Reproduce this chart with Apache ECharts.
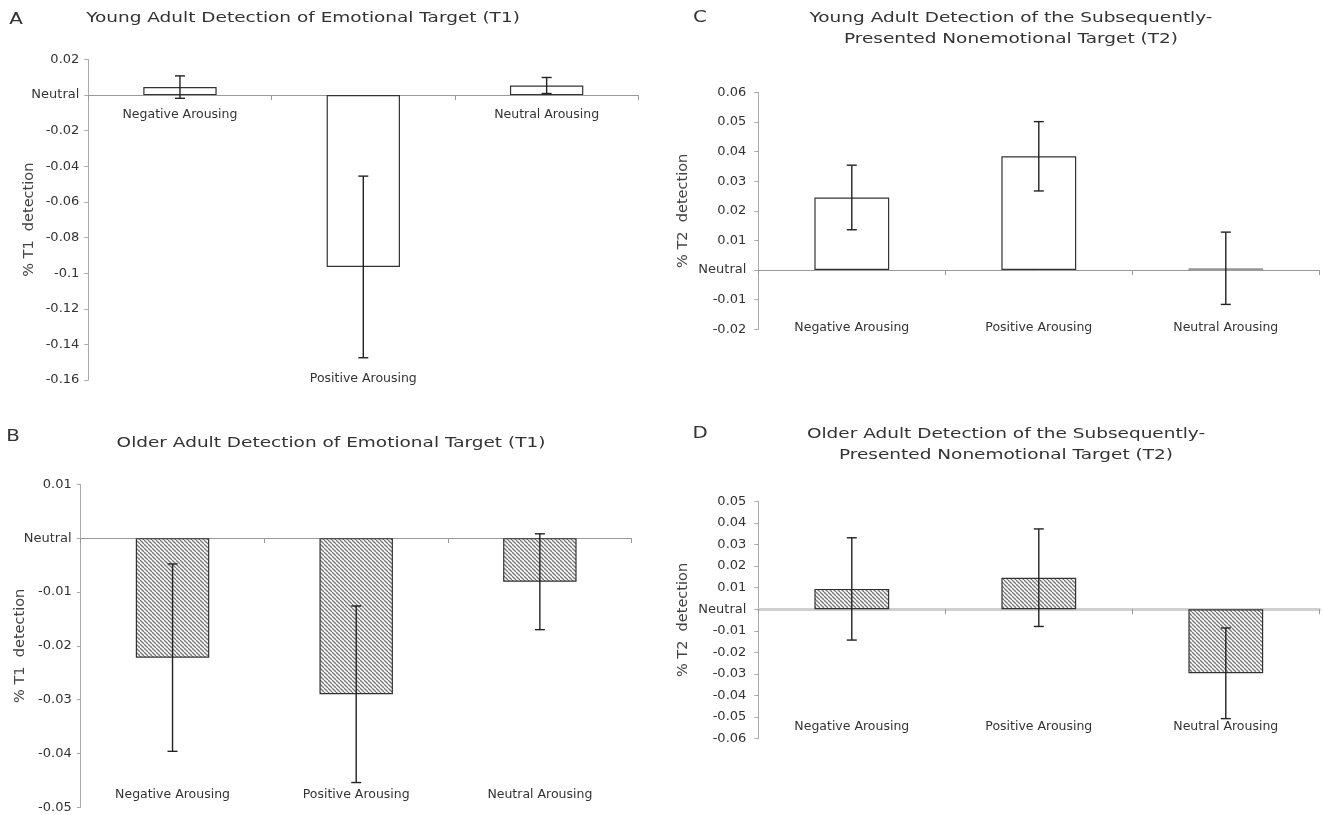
<!DOCTYPE html>
<html>
<head>
<meta charset="utf-8">
<title>Detection of emotional / nonemotional targets</title>
<script src="https://cdn.jsdelivr.net/npm/echarts@6/dist/echarts.min.js"></script>
<style>
  html, body { margin: 0; padding: 0; background: #fff; }
  #main { width: 1323px; height: 815px; }
</style>
</head>
<body>
<div id="main"></div>
<script>
// 数据：三个条件，四个面板（A 年轻T1，B 年长T1，C 年轻T2，D 年长T2）
var categories = ['Negative Arousing', 'Positive Arousing', 'Neutral Arousing'];

var youngT1 = [0.0045, -0.0965, 0.0054];
var youngT1Err = [0.0063, 0.051, 0.0045];

var olderT1 = [-0.0222, -0.029, -0.0081];
var olderT1Err = [0.0174, 0.0164, 0.0089];

var youngT2 = [0.0245, 0.0384, 0.0006];
var youngT2Err = [0.0109, 0.0117, 0.0122];

var olderT2 = [0.0094, 0.0146, -0.0297];
var olderT2Err = [0.0237, 0.0226, 0.021];

// y轴范围 [min, max, interval]
var yRangeA = [-0.16, 0.02, 0.02];
var yRangeB = [-0.05, 0.01, 0.01];
var yRangeC = [-0.02, 0.06, 0.01];
var yRangeD = [-0.06, 0.05, 0.01];

var font = 'DejaVu Sans, Verdana, sans-serif';

// 斜线填充（B、D 两个面板）
function hatchPattern() {
  var s = 4;
  var c = document.createElement('canvas');
  c.width = s; c.height = s;
  var ctx = c.getContext('2d');
  ctx.fillStyle = '#fff';
  ctx.fillRect(0, 0, s, s);
  ctx.strokeStyle = '#777';
  ctx.lineWidth = 1.3;
  for (var k = -1; k <= 1; k++) {
    ctx.beginPath();
    ctx.moveTo(k * s, 0);
    ctx.lineTo(k * s + s, s);
    ctx.stroke();
  }
  return c;
}
var hatch = { image: hatchPattern(), repeat: 'repeat' };

// 面板配置：网格位置、y轴、标签位置
var panels = [
  { grid: { left: 88.3, top: 59.5, width: 550, height: 320.5 }, range: yRangeA, name: '% T1  detection', nameGap: 52,
    labelPos: ['zero', 'bottom', 'zero'], zeroMargin: 13, bottomMargin: -8, labelMargin: 9,
    zeroLine: { color: '#999', width: 1 }, vals: youngT1, errs: youngT1Err, fill: '#fff' },
  { grid: { left: 80.7, top: 484.3, width: 551, height: 323 }, range: yRangeB, name: '% T1  detection', nameGap: 53,
    labelPos: ['bottom', 'bottom', 'bottom'], zeroMargin: 8, bottomMargin: -19, labelMargin: 9,
    zeroLine: { color: '#999', width: 1 }, vals: olderT1, errs: olderT1Err, fill: hatch },
  { grid: { left: 758.3, top: 92.3, width: 561, height: 237 }, range: yRangeC, name: '% T2  detection', nameGap: 68,
    labelPos: ['bottom', 'bottom', 'bottom'], zeroMargin: 8, bottomMargin: -8, labelMargin: 12,
    zeroLine: { color: '#999', width: 1 }, vals: youngT2, errs: youngT2Err, fill: '#fff' },
  { grid: { left: 758.3, top: 501.3, width: 561, height: 237.4 }, range: yRangeD, name: '% T2  detection', nameGap: 68,
    labelPos: ['bottom', 'bottom', 'bottom'], zeroMargin: 8, bottomMargin: -18, labelMargin: 12,
    zeroLine: { color: '#cfcfcf', width: 3 }, vals: olderT2, errs: olderT2Err, fill: hatch }
];

var grids = [], xAxes = [], yAxes = [], series = [];

panels.forEach(function (p, i) {
  grids.push(p.grid);

  // 零线轴的标签留在网格底部，所以按零点位置往上挪
  var zeroOffset = p.grid.height * (0 - p.range[0]) / (p.range[1] - p.range[0]);

  // x轴1：零线 + 刻度（A 面板零线下方的标签也在这里）
  xAxes.push({
    type: 'category', gridIndex: i, position: 'bottom', data: categories,
    axisLine: { onZero: true, lineStyle: { color: p.zeroLine.color, width: p.zeroLine.width } },
    axisTick: { show: true, length: 5, lineStyle: { color: '#999' } },
    axisLabel: {
      interval: 0, margin: p.zeroMargin - zeroOffset, color: '#333', fontFamily: font, fontSize: 12.5,
      formatter: function (v, idx) { return p.labelPos[idx] === 'zero' ? v : ''; }
    }
  });
  // x轴2：只负责底部的类别标签
  xAxes.push({
    type: 'category', gridIndex: i, position: 'bottom', data: categories,
    axisLine: { show: false, onZero: false },
    axisTick: { show: false },
    axisLabel: {
      interval: 0, margin: p.bottomMargin, color: '#333', fontFamily: font, fontSize: 12.5,
      formatter: function (v, idx) { return p.labelPos[idx] === 'bottom' ? v : ''; }
    }
  });

  yAxes.push({
    type: 'value', gridIndex: i, min: p.range[0], max: p.range[1], interval: p.range[2],
    name: p.name, nameLocation: 'middle', nameGap: p.nameGap, nameMoveOverlap: false,
    nameTextStyle: { color: '#444', fontFamily: font, fontSize: 14.5 },
    axisLine: { show: true, lineStyle: { color: '#aaa' } },
    axisTick: { show: true, length: 4, lineStyle: { color: '#aaa' } },
    splitLine: { show: false },
    axisLabel: {
      margin: p.labelMargin, color: '#333', fontFamily: font, fontSize: 13,
      formatter: function (v) {
        if (Math.abs(v) < 1e-9) return 'Neutral';
        return String(+v.toFixed(3));
      }
    }
  });

  // 柱子
  series.push({
    type: 'bar', xAxisIndex: i * 2, yAxisIndex: i, barWidth: '40%',
    data: p.vals.map(function (v, k) {
      // C 面板中性条件几乎为0，原图是灰色
      if (i === 2 && k === 2) return { value: v, itemStyle: { color: '#999', borderColor: '#999' } };
      return v;
    }),
    itemStyle: { color: p.fill, borderColor: '#333', borderWidth: 1.2 },
    emphasis: { disabled: true },
    z: 3
  });

  // 误差线
  series.push({
    type: 'custom', xAxisIndex: i * 2, yAxisIndex: i, z: 5, silent: true,
    data: p.vals.map(function (v, k) { return [k, v - p.errs[k], v + p.errs[k]]; }),
    renderItem: function (params, api) {
      var lo = api.coord([api.value(0), api.value(1)]);
      var hi = api.coord([api.value(0), api.value(2)]);
      var w = 5;
      var st = { stroke: '#222', lineWidth: 1.4 };
      return {
        type: 'group',
        children: [
          { type: 'line', shape: { x1: lo[0], y1: lo[1], x2: hi[0], y2: hi[1] }, style: st },
          { type: 'line', shape: { x1: lo[0] - w, y1: lo[1], x2: lo[0] + w, y2: lo[1] }, style: st },
          { type: 'line', shape: { x1: hi[0] - w, y1: hi[1], x2: hi[0] + w, y2: hi[1] }, style: st }
        ]
      };
    }
  });
});

// 标题和面板字母（原图横向被拉宽了，用 scaleX 模拟）
function txt(x, y, text, size) {
  return {
    type: 'text', x: x, y: y, scaleX: 1.32, silent: true,
    style: {
      text: text, fill: '#333', font: size + 'px ' + font,
      align: 'center', verticalAlign: 'middle', lineHeight: 21
    }
  };
}

var graphics = [
  txt(16, 20.5, 'A', 15),
  txt(303, 18, 'Young Adult Detection of Emotional Target (T1)', 14),
  txt(13, 437, 'B', 15),
  txt(331, 443, 'Older Adult Detection of Emotional Target (T1)', 14),
  txt(700, 18, 'C', 15),
  txt(1011, 28.5, 'Young Adult Detection of the Subsequently-\nPresented Nonemotional Target (T2)', 14),
  txt(700, 434, 'D', 15),
  txt(1006, 444.5, 'Older Adult Detection of the Subsequently-\nPresented Nonemotional Target (T2)', 14)
];

var chart = echarts.init(document.getElementById('main'));
chart.setOption({
  animation: false,
  backgroundColor: '#fff',
  grid: grids,
  xAxis: xAxes,
  yAxis: yAxes,
  series: series,
  graphic: graphics
});
</script>
</body>
</html>
